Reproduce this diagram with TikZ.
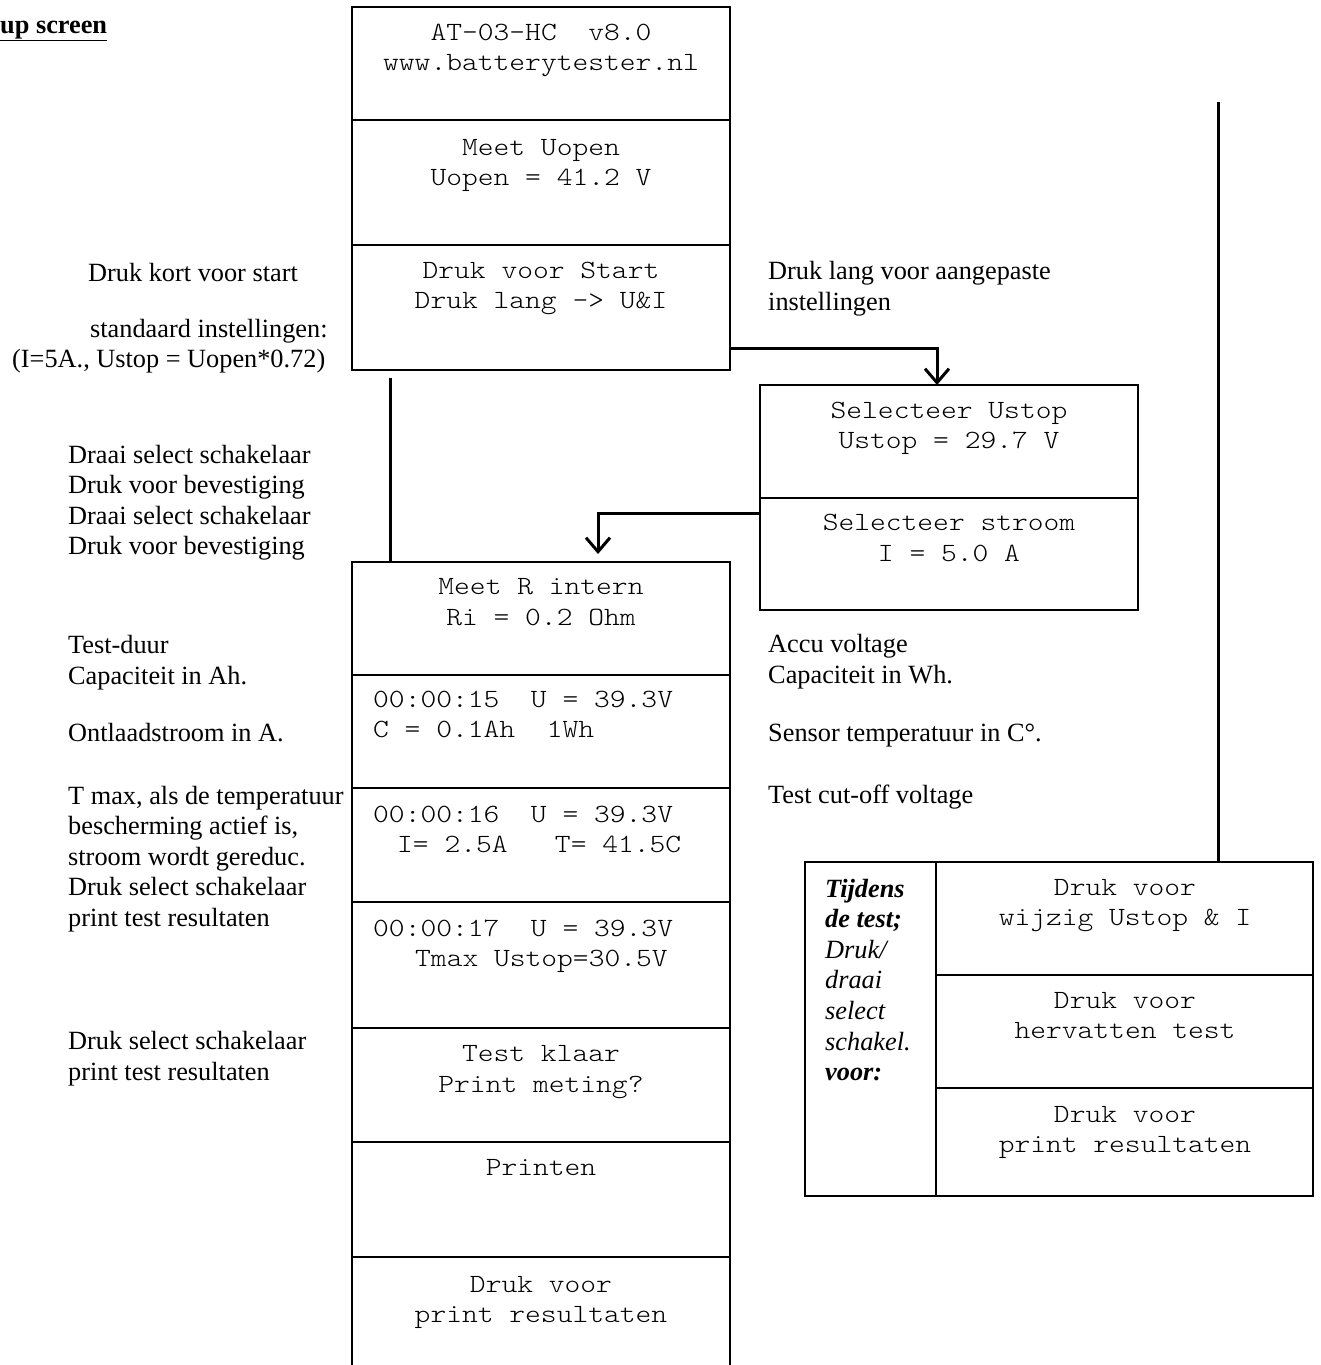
\documentclass[tikz,border=0pt]{standalone}
\usepackage{fontspec}
\setmainfont{Liberation Serif}
\newfontfamily\monof[FakeStretch=1.143]{lmmonolt10-regular.otf}
\usetikzlibrary{arrows.meta}
\begin{document}
\frenchspacing
\begin{tikzpicture}[x=1pt,y=-1pt,
  box/.style={draw, line width=2.2pt, inner sep=0pt, outer sep=0pt, anchor=north west, rectangle},
  ser/.style={font=\fontsize{26.3}{30.5}\selectfont, inner sep=0pt, anchor=base west},
  mon/.style={font=\monof\fontsize{26.3}{30.5}\selectfont, inner sep=0pt, anchor=base west},
  monc/.style={mon, anchor=base},
  conn/.style={line width=3pt},
  arr/.style={conn, -{Straight Barb[length=14pt,width=24pt,line width=3pt]}}]
\useasboundingbox (0,0) rectangle (1321,1365);

% title
\node[ser, font=\fontsize{26.3}{30.5}\selectfont\bfseries] (title) at (0,33) {\underline{up screen}};

% top column
\node[box, minimum width=378pt, minimum height=113pt] (t1) at (352,7) {};
\node[box, minimum width=378pt, minimum height=125pt] (t2) at (352,120) {};
\node[box, minimum width=378pt, minimum height=125pt] (druk) at (352,245) {};
\node[monc] (t1a) at (541,40) {AT-03-HC~~v8.0};
\node[monc] (t1b) at (541,70) {www.batterytester.nl};
\node[monc] (t2a) at (541,155) {Meet Uopen};
\node[monc] (t2b) at (541,185) {Uopen = 41.2 V};
\node[monc] (dra) at (541,278) {Druk voor Start};
\node[monc] (drb) at (541,308) {Druk lang -> U\&I};

% select boxes
\node[box, minimum width=378pt, minimum height=113pt] (ustop) at (760,385) {};
\node[box, minimum width=378pt, minimum height=112pt] (stroom) at (760,498) {};
\node[monc] (usa) at (949,418) {Selecteer Ustop};
\node[monc] (usb) at (949,448) {Ustop = 29.7 V};
\node[monc] (sta) at (949,530) {Selecteer stroom};
\node[monc] (stb) at (949,561) {I = 5.0 A};

% lower column
\node[box, minimum width=378pt, minimum height=113pt] (meetR) at (352,562) {};
\node[box, minimum width=378pt, minimum height=113pt] (s15) at (352,675) {};
\node[box, minimum width=378pt, minimum height=114pt] (s16) at (352,788) {};
\node[box, minimum width=378pt, minimum height=126pt] (s17) at (352,902) {};
\node[box, minimum width=378pt, minimum height=114pt] (klaar) at (352,1028) {};
\node[box, minimum width=378pt, minimum height=115pt] (printen) at (352,1142) {};
\node[box, draw=none, minimum width=378pt, minimum height=108pt] (last) at (352,1257) {};
\draw[line width=2.2pt] (last.south west) -- (last.north west) -- (last.north east) -- (last.south east);

\node[monc] (mra) at (541,594) {Meet R intern};
\node[monc] (mrb) at (541,625) {Ri = 0.2 Ohm};
\node[mon] (a15) at (373,707) {00:00:15~~U~=~39.3V};
\node[mon] (b15) at (373,737) {C~=~0.1Ah~~1Wh};
\node[mon] (a16) at (373,822) {00:00:16~~U~=~39.3V};
\node[mon] (b16) at (397,852) {I=~2.5A~~~T=~41.5C};
\node[mon] (a17) at (373,936) {00:00:17~~U~=~39.3V};
\node[mon] (b17) at (415,966) {Tmax~Ustop=30.5V};
\node[monc] (kla) at (541,1061) {Test klaar};
\node[monc] (klb) at (541,1092) {Print meting?};
\node[monc] (pra) at (541,1175) {Printen};
\node[monc] (lsa) at (541,1292) {Druk voor};
\node[monc] (lsb) at (541,1322) {print resultaten};

% panel
\node[box, minimum width=131pt, minimum height=334pt] (panelL) at (805,862) {};
\node[box, minimum width=377pt, minimum height=113pt] (p1) at (936,862) {};
\node[box, minimum width=377pt, minimum height=113pt] (p2) at (936,975) {};
\node[box, minimum width=377pt, minimum height=108pt] (p3) at (936,1088) {};
\node[monc] (p1a) at (1125,895) {Druk voor};
\node[monc] (p1b) at (1125,925) {wijzig Ustop \& I};
\node[monc] (p2a) at (1125,1008) {Druk voor};
\node[monc] (p2b) at (1125,1038) {hervatten test};
\node[monc] (p3a) at (1125,1122) {Druk voor};
\node[monc] (p3b) at (1125,1152) {print resultaten};
\node[ser, font=\fontsize{26.3}{30.5}\selectfont\bfseries\itshape] (pl1) at (825,897) {Tijdens};
\node[ser, font=\fontsize{26.3}{30.5}\selectfont\bfseries\itshape] (pl2) at (825,927) {de test;};
\node[ser, font=\fontsize{26.3}{30.5}\selectfont\itshape] (pl3) at (825,958) {Druk/};
\node[ser, font=\fontsize{26.3}{30.5}\selectfont\itshape] (pl4) at (825,988) {draai};
\node[ser, font=\fontsize{26.3}{30.5}\selectfont\itshape] (pl5) at (825,1019) {select};
\node[ser, font=\fontsize{26.3}{30.5}\selectfont\itshape] (pl6) at (825,1050) {schakel.};
\node[ser, font=\fontsize{26.3}{30.5}\selectfont\bfseries\itshape] (pl7) at (825,1080) {voor:};

% left annotations
\node[ser] (la1) at (88,281) {Druk kort voor start};
\node[ser] (la2) at (90,337) {standaard instellingen:};
\node[ser] (la3) at (12,367) {(I=5A., Ustop = Uopen*0.72)};
\foreach \t [count=\i from 0] in {Draai select schakelaar, Druk voor bevestiging, Draai select schakelaar, Druk voor bevestiging}
  \node[ser] (lb\i) at (68,463+30.6*\i) {\t};
\node[ser] (lc1) at (68,653) {Test-duur};
\node[ser] (lc2) at (68,684) {Capaciteit in Ah.};
\node[ser] (lc3) at (68,741) {Ontlaadstroom in A.};
\foreach \t [count=\i from 0] in {{T max, als de temperatuur}, {bescherming actief is,}, stroom wordt gereduc., Druk select schakelaar, print test resultaten}
  \node[ser] (ld\i) at (68,804+30.6*\i) {\t};
\node[ser] (le1) at (68,1049) {Druk select schakelaar};
\node[ser] (le2) at (68,1080) {print test resultaten};

% right annotations
\node[ser] (ra1) at (768,279) {Druk lang voor aangepaste};
\node[ser] (ra2) at (768,310) {instellingen};
\node[ser] (rb1) at (768,652) {Accu voltage};
\node[ser] (rb2) at (768,683) {Capaciteit in Wh.};
\node[ser] (rb3) at (768,741) {Sensor temperatuur in C°.};
\node[ser] (rb4) at (768,803) {Test cut-off voltage};

% connectors
\draw[arr] ([yshift=22pt]druk.south east) -| ([xshift=-12pt]ustop.north);
\draw[arr, shorten >=8pt] ([yshift=-15pt]stroom.north west) -| ([xshift=57pt]meetR.north);
\draw[conn] ([xshift=38pt,yshift=-8pt]druk.south west) -- ([xshift=38pt]meetR.north west);
\coordinate (vtop) at (1218,102);
\draw[conn] (vtop) -- (vtop |- p1.north);
\end{tikzpicture}
\end{document}
